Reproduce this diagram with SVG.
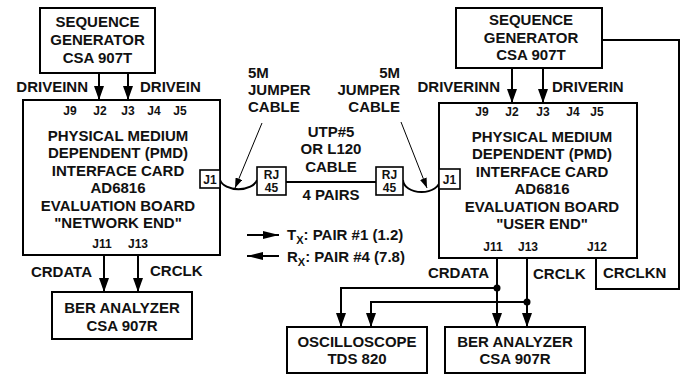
<svg xmlns="http://www.w3.org/2000/svg" width="687" height="378" viewBox="0 0 687 378">
<style>
text{font-family:"Liberation Sans",Arial,sans-serif;font-weight:bold;fill:#111}
.t{font-size:15px;text-anchor:middle}
.l{font-size:15px}
.j{font-size:12px;text-anchor:middle}
.box{fill:#fff;stroke:#000;stroke-width:2}
.sbox{fill:#fff;stroke:#000;stroke-width:1.6}
.w{fill:none;stroke:#000;stroke-width:2}
.thin{fill:none;stroke:#000;stroke-width:1}
</style>
<defs>
<marker id="ah" markerUnits="userSpaceOnUse" viewBox="0 0 14 10" refX="14" refY="5" markerWidth="14" markerHeight="10" orient="auto"><path d="M0,0 L14,5 L0,10 z" fill="#000"/></marker>
<marker id="ahs" markerUnits="userSpaceOnUse" viewBox="0 0 10 7" refX="10" refY="3.5" markerWidth="10" markerHeight="7" orient="auto"><path d="M0,0 L10,3.5 L0,7 z" fill="#000"/></marker>
<marker id="ahl" markerUnits="userSpaceOnUse" viewBox="0 0 16 8" refX="16" refY="4" markerWidth="16" markerHeight="8" orient="auto"><path d="M0,0 L16,4 L0,8 z" fill="#000"/></marker>
</defs>

<g id="connectors">
<line class="w" x1="99" y1="73" x2="99" y2="100" marker-end="url(#ah)"/>
<line class="w" x1="128" y1="73" x2="128" y2="100" marker-end="url(#ah)"/>
<line class="w" x1="104" y1="255" x2="104" y2="292" marker-end="url(#ah)"/>
<line class="w" x1="138" y1="255" x2="138" y2="292" marker-end="url(#ah)"/>
<line class="w" x1="512" y1="68" x2="512" y2="103" marker-end="url(#ah)"/>
<line class="w" x1="543" y1="68" x2="543" y2="103" marker-end="url(#ah)"/>
<path class="w" d="M602,40 H679 V289 H596 V258"/>
<line class="w" x1="497" y1="258" x2="497" y2="327" marker-end="url(#ah)"/>
<line class="w" x1="527" y1="258" x2="527" y2="327" marker-end="url(#ah)"/>
<path class="w" d="M497,288 H341 V327" marker-end="url(#ah)"/>
<path class="w" d="M527,302 H371 V327" marker-end="url(#ah)"/>
<circle cx="497" cy="288" r="3.5" fill="#000"/>
<circle cx="527" cy="302" r="3.5" fill="#000"/>
<path class="w" d="M220,180 A19,12 0 0 0 257,180"/>
<path class="w" d="M403,180 A18.5,12 0 0 0 440,180"/>
<line class="w" x1="286" y1="182" x2="376" y2="182"/>
<line class="thin" x1="262" y1="123" x2="235" y2="188" marker-end="url(#ahs)"/>
<line class="thin" x1="401" y1="122" x2="427" y2="188" marker-end="url(#ahs)"/>
<line class="w" x1="247" y1="235" x2="279" y2="235" marker-end="url(#ahl)"/>
<line class="w" x1="279" y1="256" x2="247" y2="256" marker-end="url(#ahl)"/>
</g>

<g id="seqgen-left">
<rect class="box" x="40" y="8" width="115" height="65"/>
<text class="t" x="97.5" y="27">SEQUENCE</text>
<text class="t" x="97.5" y="45">GENERATOR</text>
<text class="t" x="97.5" y="63">CSA 907T</text>
</g>
<text class="l" x="88" y="92" text-anchor="end">DRIVEINN</text>
<text class="l" x="140" y="92">DRIVEIN</text>

<g id="pmd-left">
<rect class="box" x="23" y="100" width="197" height="155"/>
<text class="j" x="70" y="115">J9</text>
<text class="j" x="100" y="115">J2</text>
<text class="j" x="128" y="115">J3</text>
<text class="j" x="154" y="115">J4</text>
<text class="j" x="180" y="115">J5</text>
<text class="t" x="118" y="140.5">PHYSICAL MEDIUM</text>
<text class="t" x="118" y="158">DEPENDENT (PMD)</text>
<text class="t" x="118" y="175.5">INTERFACE CARD</text>
<text class="t" x="118" y="193">AD6816</text>
<text class="t" x="118" y="210.5">EVALUATION BOARD</text>
<text class="t" x="118" y="228">"NETWORK END"</text>
<text class="j" x="102" y="248">J11</text>
<text class="j" x="138" y="248">J13</text>
<rect class="sbox" x="200" y="170" width="20" height="18"/>
<text class="j" x="210" y="184">J1</text>
</g>
<text class="l" x="92" y="277" text-anchor="end">CRDATA</text>
<text class="l" x="150" y="276">CRCLK</text>

<g id="ber-left">
<rect class="box" x="52" y="292" width="140" height="47"/>
<text class="t" x="122" y="313">BER ANALYZER</text>
<text class="t" x="122" y="331">CSA 907R</text>
</g>

<g id="rj45-left">
<rect class="sbox" x="257" y="167" width="29" height="28"/>
<text class="j" x="271.5" y="179">RJ</text>
<text class="j" x="271.5" y="192">45</text>
</g>
<g id="rj45-right">
<rect class="sbox" x="376" y="167" width="27" height="28"/>
<text class="j" x="389.5" y="179">RJ</text>
<text class="j" x="389.5" y="192">45</text>
</g>

<g id="labels-mid">
<text class="l" x="248" y="78">5M</text>
<text class="l" x="248" y="95">JUMPER</text>
<text class="l" x="248" y="112">CABLE</text>
<text class="l" x="400" y="78" text-anchor="end">5M</text>
<text class="l" x="400" y="95" text-anchor="end">JUMPER</text>
<text class="l" x="400" y="112" text-anchor="end">CABLE</text>
<text class="t" x="331" y="137">UTP#5</text>
<text class="t" x="331" y="154">OR L120</text>
<text class="t" x="331" y="172">CABLE</text>
<text class="t" x="331" y="200">4 PAIRS</text>
<text class="l" x="287" y="240">T<tspan font-size="11" dy="4">X</tspan><tspan dy="-4">: PAIR #1 (1.2)</tspan></text>
<text class="l" x="287" y="262">R<tspan font-size="11" dy="4">X</tspan><tspan dy="-4">: PAIR #4 (7.8)</tspan></text>
</g>

<g id="seqgen-right">
<rect class="box" x="456" y="8" width="146" height="60"/>
<text class="t" x="531" y="25">SEQUENCE</text>
<text class="t" x="531" y="42.5">GENERATOR</text>
<text class="t" x="531" y="60">CSA 907T</text>
</g>
<text class="l" x="500" y="92" text-anchor="end">DRIVERINN</text>
<text class="l" x="552" y="92">DRIVERIN</text>

<g id="pmd-right">
<rect class="box" x="439" y="103" width="198" height="155"/>
<text class="j" x="482" y="116">J9</text>
<text class="j" x="512" y="116">J2</text>
<text class="j" x="543" y="116">J3</text>
<text class="j" x="573" y="116">J4</text>
<text class="j" x="597" y="116">J5</text>
<text class="t" x="542" y="141.5">PHYSICAL MEDIUM</text>
<text class="t" x="542" y="159">DEPENDENT (PMD)</text>
<text class="t" x="542" y="176.5">INTERFACE CARD</text>
<text class="t" x="542" y="194">AD6816</text>
<text class="t" x="542" y="211.5">EVALUATION BOARD</text>
<text class="t" x="542" y="229">"USER END"</text>
<text class="j" x="493" y="251">J11</text>
<text class="j" x="528" y="251">J13</text>
<text class="j" x="597" y="251">J12</text>
<rect class="sbox" x="439" y="169" width="21" height="20"/>
<text class="j" x="449.5" y="184">J1</text>
</g>
<text class="l" x="489" y="278" text-anchor="end">CRDATA</text>
<text class="l" x="533" y="279">CRCLK</text>
<text class="l" x="603" y="278">CRCLKN</text>

<g id="oscilloscope">
<rect class="box" x="287" y="327" width="140" height="46"/>
<text class="t" x="357" y="347">OSCILLOSCOPE</text>
<text class="t" x="357" y="364">TDS 820</text>
</g>
<g id="ber-right">
<rect class="box" x="445" y="327" width="140" height="46"/>
<text class="t" x="515" y="347">BER ANALYZER</text>
<text class="t" x="515" y="364">CSA 907R</text>
</g>
</svg>
